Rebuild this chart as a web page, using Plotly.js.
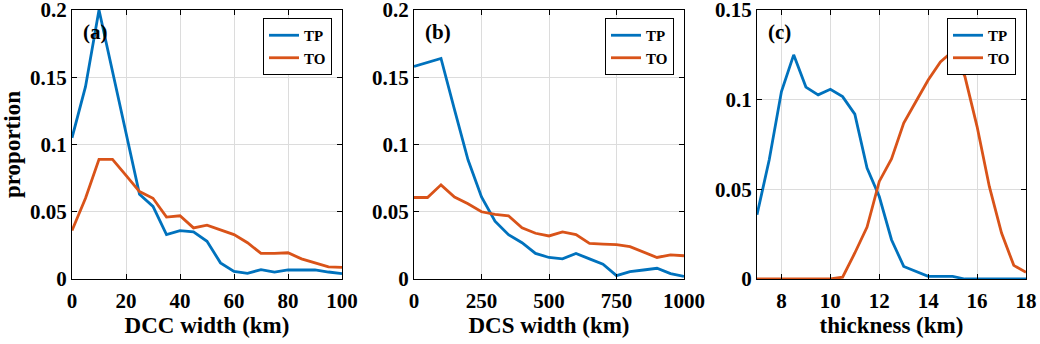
<!DOCTYPE html>
<html>
<head>
<meta charset="utf-8">
<script src="https://cdn.plot.ly/plotly-3.0.1.min.js"></script>
<style>
  html, body { margin: 0; padding: 0; background: #fff; }
  #chart { width: 1040px; height: 344px; }
</style>
</head>
<body>
<div id="chart"></div>
<script>
// panel (a): DCC width
const dccWidth = [0, 5, 10, 15, 20, 25, 30, 35, 40, 45, 50, 55, 60, 65, 70, 75, 80, 85, 90, 95, 100];
const dccTP = [0.105, 0.143, 0.2, 0.155, 0.108, 0.063, 0.054, 0.033, 0.036, 0.035, 0.028, 0.012, 0.0057, 0.0042, 0.007, 0.0052, 0.0067, 0.0067, 0.0067, 0.0052, 0.004];
const dccTO = [0.036, 0.06, 0.089, 0.089, 0.077, 0.065, 0.06, 0.046, 0.047, 0.038, 0.040, 0.0365, 0.033, 0.027, 0.019, 0.019, 0.0195, 0.015, 0.012, 0.009, 0.0087];

// panel (b): DCS width
const dcsWidth = [0, 50, 100, 150, 200, 250, 300, 350, 400, 450, 500, 550, 600, 650, 700, 750, 800, 850, 900, 950, 1000];
const dcsTP = [0.158, 0.161, 0.164, 0.126, 0.0886, 0.061, 0.043, 0.033, 0.027, 0.019, 0.016, 0.015, 0.019, 0.015, 0.011, 0.0025, 0.0055, 0.0067, 0.008, 0.004, 0.002];
const dcsTO = [0.0606, 0.0606, 0.070, 0.061, 0.056, 0.050, 0.048, 0.047, 0.038, 0.034, 0.032, 0.035, 0.033, 0.0265, 0.026, 0.0255, 0.024, 0.020, 0.016, 0.018, 0.0173];

// panel (c): thickness
const thickness = [7, 7.5, 8, 8.5, 9, 9.5, 10, 10.5, 11, 11.5, 12, 12.5, 13, 13.5, 14, 14.5, 15, 15.5, 16, 16.5, 17, 17.5, 18];
const thkTP = [0.0358, 0.0665, 0.1045, 0.125, 0.107, 0.1027, 0.1058, 0.1017, 0.0919, 0.0618, 0.046, 0.0219, 0.007, 0.0043, 0.0015, 0.0015, 0.0015, 0, 0, 0, 0, 0, 0];
const thkTO = [0, 0, 0, 0, 0, 0, 0, 0.001, 0.0145, 0.029, 0.0544, 0.067, 0.087, 0.099, 0.111, 0.121, 0.127, 0.113, 0.085, 0.0516, 0.0256, 0.0076, 0.0037];

const seriesNames = ['TP', 'TO'];
const panelLabels = ['(a)', '(b)', '(c)'];
const xTitles = ['DCC width (km)', 'DCS width (km)', 'thickness (km)'];

const blue = '#0072BD';
const orange = '#D95319';
const serif = '"Liberation Serif", "Times New Roman", serif';

const W = 1040, H = 344;
const panels = [[72, 342], [414, 684], [757, 1026]];
const plotTop = 10, plotBottom = 279;

function line(x, y, name, color, n) {
    const ax = n === 1 ? '' : String(n);
    return {
        x: x, y: y, name: name, type: 'scatter', mode: 'lines',
        xaxis: 'x' + ax, yaxis: 'y' + ax,
        legend: n === 1 ? 'legend' : 'legend' + n,
        line: { color: color, width: 2.8 }
    };
}

let data = [
    line(dccWidth, dccTP, seriesNames[0], blue, 1),
    line(dccWidth, dccTO, seriesNames[1], orange, 1),
    line(dcsWidth, dcsTP, seriesNames[0], blue, 2),
    line(dcsWidth, dcsTO, seriesNames[1], orange, 2),
    line(thickness, thkTP, seriesNames[0], blue, 3),
    line(thickness, thkTO, seriesNames[1], orange, 3)
];

function tickFont() { return { family: serif, size: 21, weight: 'bold', color: '#000' }; }
function titleFont() { return { family: serif, size: 23, weight: 'bold', color: '#000' }; }

function axisBase() {
    return {
        showline: true, linecolor: '#000', linewidth: 1, mirror: 'ticks',
        ticks: 'inside', ticklen: 5, tickcolor: '#000',
        showgrid: true, gridcolor: '#dcdcdc', zeroline: false,
        tickfont: tickFont(), ticklabeloverflow: 'allow', fixedrange: true
    };
}

const xRanges = [[0, 100], [0, 1000], [7, 18]];
const xTicks = [[0, 20, 40, 60, 80, 100], [0, 250, 500, 750, 1000], [8, 10, 12, 14, 16, 18]];
const yRanges = [[0, 0.2], [0, 0.2], [0, 0.15]];
const yTicks = [[0, 0.05, 0.1, 0.15, 0.2], [0, 0.05, 0.1, 0.15, 0.2], [0, 0.05, 0.1, 0.15]];

let layout = {
    width: W, height: H,
    margin: { l: 0, r: 0, t: 0, b: 0 },
    paper_bgcolor: '#fff', plot_bgcolor: '#fff',
    annotations: []
};

for (let i = 0; i < 3; i++) {
    const n = i === 0 ? '' : String(i + 1);
    const xa = axisBase();
    xa.domain = [panels[i][0] / W, panels[i][1] / W];
    xa.range = xRanges[i];
    xa.tickvals = xTicks[i];
    xa.ticklabelstandoff = 3;
    xa.anchor = 'y' + n;
    xa.title = { text: xTitles[i], font: titleFont(), standoff: 4 };
    layout['xaxis' + n] = xa;

    const ya = axisBase();
    ya.domain = [(H - plotBottom) / H, (H - plotTop) / H];
    ya.range = yRanges[i];
    ya.tickvals = yTicks[i];
    ya.anchor = 'x' + n;
    if (i === 0) ya.title = { text: 'proportion', font: titleFont(), standoff: 4 };
    layout['yaxis' + n] = ya;

    layout[i === 0 ? 'legend' : 'legend' + (i + 1)] = {
        x: (panels[i][1] - 10) / W, y: (H - 18) / H,
        xanchor: 'right', yanchor: 'top',
        bgcolor: '#fff', bordercolor: '#000', borderwidth: 1,
        font: { family: serif, size: 15, weight: 'bold', color: '#000' },
        tracegroupgap: 0
    };

    layout.annotations.push({
        text: panelLabels[i],
        xref: 'x' + n + ' domain', yref: 'y' + n + ' domain',
        x: 0.035, y: 0.92, xanchor: 'left', yanchor: 'middle',
        showarrow: false,
        font: { family: serif, size: 21, weight: 'bold', color: '#000' }
    });
}

Plotly.newPlot('chart', data, layout, { displayModeBar: false, staticPlot: true });
</script>
</body>
</html>
